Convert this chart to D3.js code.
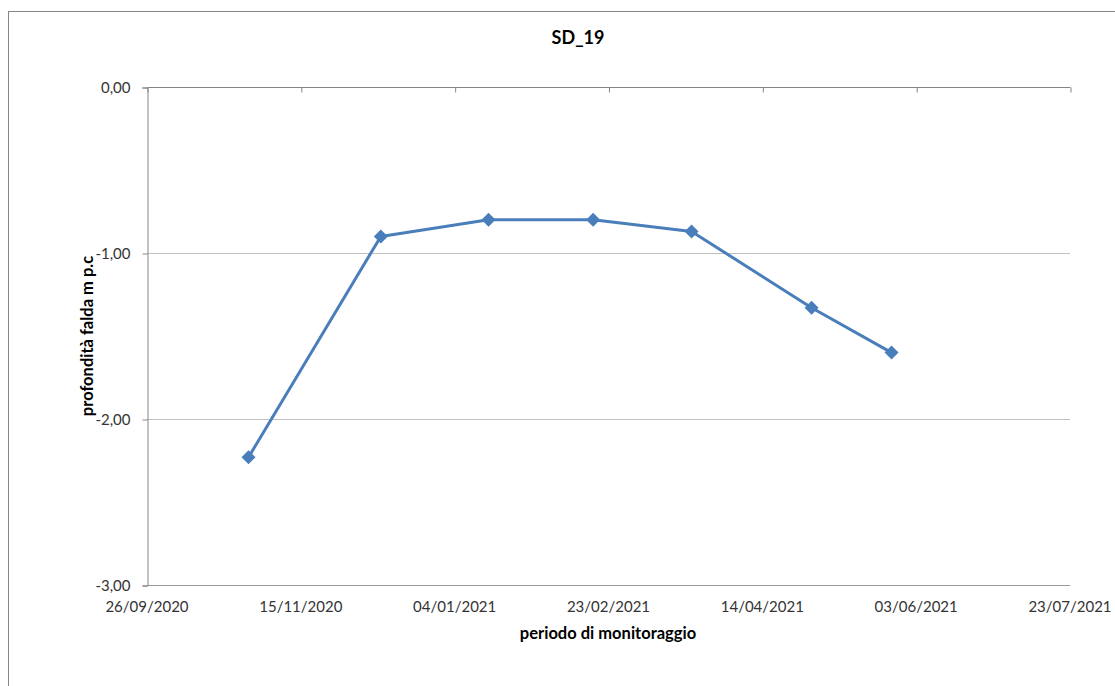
<!DOCTYPE html>
<html><head><meta charset="utf-8">
<script src="https://cdn.jsdelivr.net/npm/d3@7"></script>
<style>body{margin:0;background:#fff}svg{display:block}text{font-family:Lato,"Open Sans",sans-serif}</style>
</head><body>
<script>
const chartTitle = "SD_19";
const xTitle = "periodo di monitoraggio";
const yTitle = "profondità falda m p.c";
const dates = ["29/10/2020","11/12/2020","15/01/2021","18/02/2021","22/03/2021","30/04/2021","26/05/2021"];
const depths = [-2.23,-0.90,-0.80,-0.80,-0.87,-1.33,-1.60];
const xTickLabels = ["26/09/2020","15/11/2020","04/01/2021","23/02/2021","14/04/2021","03/06/2021","23/07/2021"];
const yTicks = [0,-1,-2,-3];

const W=1115,H=686;
const parse = d3.utcParse("%d/%m/%Y");
const fmtY = v => d3.format(".2f")(v).replace(".",",").replace("\u2212","-");
const svg = d3.select("body").append("svg").attr("width",W).attr("height",H);
svg.append("rect").attr("x",8.5).attr("y",11.5).attr("width",W).attr("height",H).attr("fill","#fff").attr("stroke","#868686");

const pL=147,pR=1070,pT=87,pB=585;
const tickDates = xTickLabels.map(parse);
const x = d3.scaleUtc().domain([tickDates[0],tickDates[tickDates.length-1]]).range([pL,pR]);
const y = d3.scaleLinear().domain([-3,0]).range([pB,pT]);

// gridlines
svg.append("g").selectAll("line").data(yTicks.filter(v=>v!==0&&v!==-3)).join("line")
  .attr("x1",pL).attr("x2",pR).attr("y1",d=>y(d)+0.5).attr("y2",d=>y(d)+0.5)
  .attr("stroke","#c0c0c0").attr("stroke-width",1);
svg.append("line").attr("x1",pL).attr("x2",pR).attr("y1",y(-3)+0.5).attr("y2",y(-3)+0.5).attr("stroke","#9a9a9a");

// y axis
const yAxis = svg.append("g").attr("transform",`translate(${pL+0.5},0.5)`)
  .call(d3.axisLeft(y).tickValues(yTicks).tickFormat(fmtY).tickSize(5).tickPadding(12));
yAxis.select(".domain").attr("stroke","#868686");
yAxis.selectAll(".tick line").attr("stroke","#868686");
yAxis.selectAll("text").attr("font-size",15).attr("fill","#333");

// top x axis (crossing at 0) with inward ticks
const xAxis = svg.append("g").attr("transform",`translate(0.5,${pT+0.5})`)
  .call(d3.axisBottom(x).tickValues(tickDates).tickSize(5).tickFormat(""));
xAxis.select(".domain").attr("stroke","#868686").attr("d",`M${pL},0H${pR}`);
xAxis.selectAll(".tick line").attr("stroke","#868686");

// x labels at bottom
svg.append("g").selectAll("text").data(tickDates).join("text")
  .attr("x",d=>x(d)).attr("y",pB+27).attr("text-anchor","middle")
  .attr("font-size",15).attr("fill","#333").text((d,i)=>xTickLabels[i]);

// line
const pts = dates.map((d,i)=>({d:parse(d),v:depths[i]}));
svg.append("path").datum(pts).attr("fill","none").attr("stroke","#4a7ebb").attr("stroke-width",3)
  .attr("stroke-linejoin","round")
  .attr("d",d3.line().x(p=>x(p.d)).y(p=>y(p.v)));
svg.append("g").selectAll("path").data(pts).join("path")
  .attr("transform",p=>`translate(${x(p.d)},${y(p.v)})`)
  .attr("d","M0,-7L7,0L0,7L-7,0Z").attr("fill","#4a7ebb");

// titles
svg.append("text").attr("x",578).attr("y",44).attr("text-anchor","middle").attr("font-size",18).attr("font-weight","bold").text(chartTitle);
svg.append("text").attr("x",608).attr("y",639).attr("text-anchor","middle").attr("font-size",16.5).attr("font-weight","bold").text(xTitle);
svg.append("text").attr("transform","translate(93,336) rotate(-90)").attr("text-anchor","middle").attr("font-size",16.5).attr("font-weight","bold").text(yTitle);
</script>
</body></html>
